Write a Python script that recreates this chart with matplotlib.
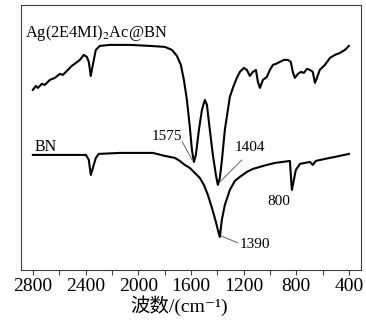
import matplotlib.pyplot as plt
import numpy as np

# Ag(2E4MI)2Ac@BN spectrum, wavenumber (cm-1) vs. transmittance (arb.)
ag_wn = [2800, 2777, 2762, 2732, 2709, 2671, 2633, 2595, 2572, 2534, 2504, 2473, 2443, 2413,
         2390, 2375, 2360, 2352, 2337, 2322, 2291, 2215, 2063, 1911, 1797, 1744, 1706, 1676,
         1653, 1630, 1608, 1592, 1577, 1562, 1539, 1516, 1494, 1478, 1456, 1433, 1410, 1395,
         1380, 1364, 1342, 1319, 1304, 1281, 1251, 1228, 1197, 1175, 1152, 1129, 1106, 1091,
         1076, 1053, 1023, 1000, 977, 954, 924, 894, 863, 841, 826, 810, 787, 765, 742, 719,
         696, 674, 658, 643, 621, 582, 544, 506, 468, 430, 400]
ag_t = [180, 184, 182, 186, 185, 190, 192, 196, 195, 200, 204, 207, 210, 215,
        213, 208, 194, 200, 210, 220, 224, 225, 225, 224, 223, 220, 214, 205,
        190, 170, 143, 120, 108, 115, 140, 160, 170, 165, 140, 115, 95, 85,
        92, 110, 140, 160, 173, 182, 192, 198, 202, 200, 194, 198, 200, 188,
        182, 190, 193, 200, 205, 206, 208, 210, 210, 208, 198, 192, 196, 198, 197, 201,
        200, 198, 187, 192, 200, 205, 212, 215, 217, 220, 224]

# BN spectrum
bn_wn = [2800, 2397, 2375, 2360, 2344, 2322, 2299, 2139, 1987, 1889, 1797, 1721, 1684, 1646,
         1608, 1570, 1532, 1501, 1471, 1440, 1410, 1387, 1380, 1365, 1342, 1304, 1266, 1228,
         1175, 1129, 1076, 1023, 962, 901, 848, 841, 833, 818, 803, 772, 696, 674, 651,
         582, 506, 400]
bn_t = [115, 115, 110, 95, 102, 112, 116, 117, 117, 117, 114, 112, 109, 105,
        102, 97, 92, 85, 75, 62, 48, 36, 33, 50, 65, 80, 89, 93,
        98, 101, 103, 105, 107, 108, 109, 95, 80, 90, 100, 106, 108, 105, 109,
        111, 113, 116]

xticks = [2800, 2400, 2000, 1600, 1200, 800, 400]

serif = ['Liberation Serif', 'Noto Sans CJK SC', 'DejaVu Sans']
plt.rcParams['font.family'] = serif
plt.rcParams['mathtext.fontset'] = 'stix'

fig = plt.figure(figsize=(3.66, 3.26), dpi=100)
ax = fig.add_axes([0.057, 0.172, 0.929, 0.813])

ax.plot(ag_wn, ag_t, color='black', lw=1.5)
ax.plot(bn_wn, bn_t, color='black', lw=1.5)

ax.set_xlim(2891, 309)
ax.set_ylim(0, 265)
ax.set_yticks([])
ax.set_xticks(xticks)
ax.set_xticks(np.arange(2600, 300, -400), minor=True)
ax.tick_params(axis='x', which='both', direction='out', length=3.5, width=0.8,
               color='#404040', pad=2.5, labelsize=14)
for s in ax.spines.values():
    s.set_color('#404040')
    s.set_linewidth(0.8)

ax.set_xlabel('波数/(cm⁻¹)', fontsize=14, x=0.465, labelpad=0)

# labels
ax.text(2861, 233, 'Ag(2E4MI)$_2$Ac@BN', fontsize=11.8, ha='left', va='baseline')
ax.text(2785, 119, 'BN', fontsize=11.5, ha='left', va='baseline')
ax.text(1669, 133, '1575', fontsize=11, ha='right', va='center')
ax.text(1152, 122, '1404', fontsize=11, ha='center', va='center')
ax.text(932, 68, '800', fontsize=11, ha='center', va='center')
ax.text(1228, 25, '1390', fontsize=11, ha='left', va='center')

# leader lines
ax.plot([1665, 1590], [128, 110], color='#505050', lw=0.6)
ax.plot([1213, 1380], [110, 88], color='#505050', lw=0.6)
ax.plot([1243, 1370], [27, 34], color='#505050', lw=0.6)

fig.savefig('out.png', dpi=100)
